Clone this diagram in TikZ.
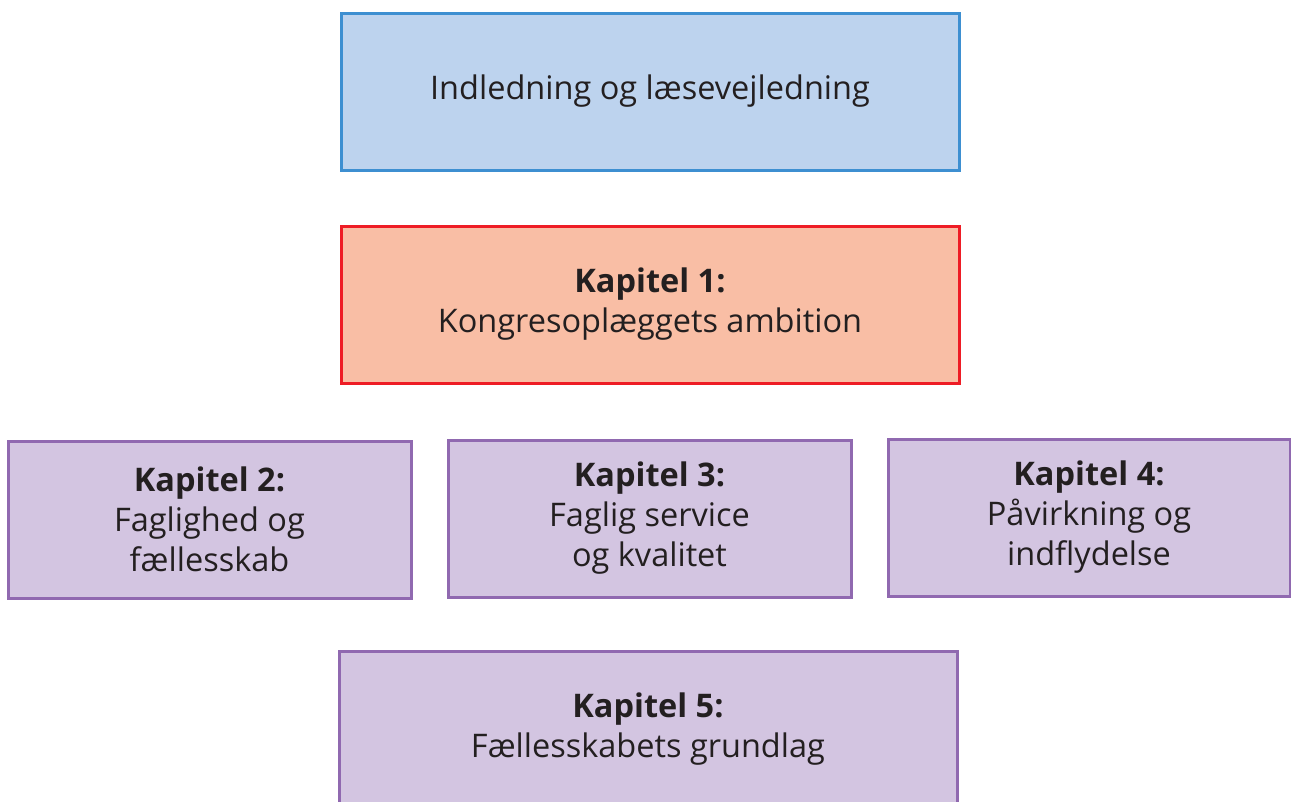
\documentclass[tikz,border=0pt]{standalone}
\usepackage{fontspec}
\setmainfont{Open Sans}
\definecolor{txt}{HTML}{231F20}
\definecolor{bluefill}{HTML}{BDD3EE}
\definecolor{blueline}{HTML}{3D8FD1}
\definecolor{redfill}{HTML}{F9BEA5}
\definecolor{redline}{HTML}{EE1C25}
\definecolor{purfill}{HTML}{D3C5E1}
\definecolor{purline}{HTML}{9069B0}
\tikzset{
  chap/.style={rectangle, line width=3pt, align=center, text=txt,
    font=\fontsize{32.5}{40}\selectfont, inner sep=0pt, minimum height=157pt},
  wide/.style={chap, minimum width=618pt},
  narrow/.style={chap, minimum width=403pt},
  bluebox/.style={draw=blueline, fill=bluefill},
  redbox/.style={draw=redline, fill=redfill},
  purbox/.style={draw=purline, fill=purfill}
}
\begin{document}
\begin{tikzpicture}[x=1pt,y=-1pt]
\useasboundingbox (0,0) rectangle (1291,801);
\clip (0,0) rectangle (1291,801);
\node[wide, bluebox] (intro) at (650,91.5) {Indledning og læsevejledning};
\node[wide, redbox] (k1) at (650,304.5) {\textbf{Kapitel 1:}\\Kongresoplæggets ambition};
\node[narrow, purbox] (k2) at (209.5,519.5) {\textbf{Kapitel 2:}\\Faglighed og\\fællesskab};
\node[narrow, purbox] (k3) at (649.5,518.5) {\textbf{Kapitel 3:}\\Faglig service\\og kvalitet};
\node[narrow, purbox, minimum width=402pt] (k4) at (1089,517.5) {\textbf{Kapitel 4:}\\Påvirkning og\\indflydelse};
\node[wide, purbox] (k5) at (648,729.5) {\textbf{Kapitel 5:}\\Fællesskabets grundlag};
\end{tikzpicture}
\end{document}
